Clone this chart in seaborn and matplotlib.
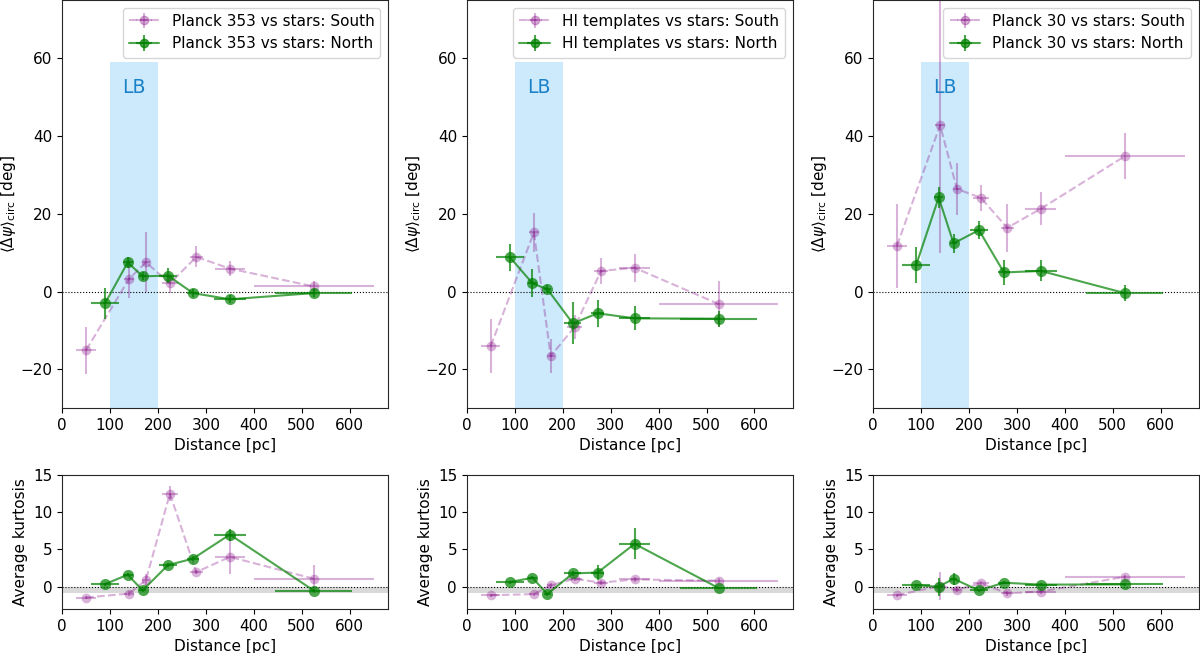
import numpy as np
import pandas as pd
import matplotlib
matplotlib.use("Agg")
import matplotlib.pyplot as plt
import seaborn as sns

# DATA
dist_south = [50, 140, 175, 225, 280, 350, 525]
dist_north = [90, 137, 168, 221, 273, 350, 525]
xerr_south = [20, 10, 8, 16, 14, 32, 125]
xerr_north = [29, 10, 8, 18, 13, 33, 80]

templates = ["Planck 353", "HI templates", "Planck 30"]

# mean circular angle difference [deg]
psi_south = [
    [-15.1, 3.3, 7.5, 2.1, 8.9, 5.9, 1.3],
    [-14.0, 15.2, -16.6, -9.1, 5.3, 6.1, -3.2],
    [11.8, 42.8, 26.4, 24.1, 16.4, 21.3, 34.8],
]
psi_south_err = [
    [6.0, 5.0, 7.7, 2.5, 2.7, 2.0, 1.5],
    [7.0, 5.0, 4.3, 3.0, 3.4, 3.6, 6.0],
    [10.8, 33.0, 6.7, 3.4, 6.2, 4.3, 5.9],
]
psi_north = [
    [-3.0, 7.5, 3.9, 4.1, -0.4, -2.0, -0.4],
    [8.8, 2.1, 0.6, -8.2, -5.6, -6.9, -7.0],
    [6.8, 24.2, 12.4, 15.8, 4.9, 5.3, -0.4],
]
psi_north_err = [
    [4.0, 1.5, 1.0, 2.0, 1.0, 1.0, 1.0],
    [3.4, 3.6, 1.0, 5.4, 3.4, 3.1, 2.1],
    [4.7, 2.6, 2.4, 2.4, 3.2, 2.7, 2.0],
]

# average kurtosis
kurt_south = [
    [-1.46, -0.93, 0.9, 12.5, 1.95, 4.0, 1.06],
    [-1.15, -1.0, 0.18, 1.06, 0.53, 0.97, 0.8],
    [-1.15, 0.1, -0.4, 0.44, -0.9, -0.66, 1.33],
]
kurt_south_err = [
    [0.2, 0.3, 0.8, 1.0, 0.3, 2.3, 1.9],
    [0.2, 0.2, 0.3, 0.3, 0.3, 0.3, 0.3],
    [0.2, 1.9, 0.3, 0.3, 0.3, 0.3, 0.3],
]
kurt_north = [
    [0.35, 1.6, -0.5, 2.9, 3.76, 7.0, -0.53],
    [0.62, 1.2, -1.0, 1.77, 1.9, 5.75, -0.18],
    [0.18, 0.0, 1.06, -0.5, 0.53, 0.27, 0.31],
]
kurt_north_err = [
    [0.2, 0.2, 0.2, 0.3, 0.3, 0.8, 0.2],
    [0.2, 0.2, 0.2, 0.3, 0.95, 2.1, 0.2],
    [0.2, 1.2, 0.8, 0.2, 0.2, 0.2, 0.2],
]

south_col = "purple"
north_col = "green"


def draw_series(ax, x, y, xerr, yerr, color, alpha, ls, ms, lw):
    df = pd.DataFrame({"x": x, "y": y})
    sns.lineplot(data=df, x="x", y="y", ax=ax, color=color, alpha=alpha,
                 linestyle=ls, marker="o", markersize=ms, markeredgewidth=0,
                 linewidth=lw, legend=False, sort=False)
    ax.errorbar(x, y, xerr=xerr, yerr=yerr, fmt="none", ecolor=color,
                alpha=alpha, elinewidth=lw)


def draw_panel(ax, ys, ys_err, yn, yn_err):
    draw_series(ax, dist_south, ys, xerr_south, ys_err, south_col, 0.3, "--", 7, 1.5)
    draw_series(ax, dist_north, yn, xerr_north, yn_err, north_col, 0.7, "-", 8, 1.5)
    ax.axhline(0, color="k", ls=":", lw=0.8, zorder=0)
    ax.set_xlim(0, 680)
    ax.set_xticks([0, 100, 200, 300, 400, 500, 600])
    ax.set_xlabel("Distance [pc]")


if __name__ == "__main__":
    sns.set_style("ticks", rc={"xtick.major.size": 3.5, "ytick.major.size": 3.5,
                               "axes.edgecolor": "0.15", "axes.linewidth": 0.8,
                               "text.color": "black", "axes.labelcolor": "black",
                               "xtick.color": "black", "ytick.color": "black"})
    plt.rcParams.update({"font.family": ["DejaVu Sans"], "font.size": 11,
                         "axes.labelsize": 11, "xtick.labelsize": 11,
                         "ytick.labelsize": 11, "legend.fontsize": 11,
                         "xtick.major.pad": 3.5, "ytick.major.pad": 3.5,
                         "axes.labelpad": 3.5})

    fig = plt.figure(figsize=(12, 6.53), dpi=100)
    lefts = [0.0517, 0.389, 0.7275]
    for i, name in enumerate(templates):
        ax = fig.add_axes([lefts[i], 0.375, 0.2717, 0.625])
        ax.fill_betweenx([-30, 59], 100, 200, color="#cdeafc", lw=0, zorder=0)
        ax.text(150, 52.5, "LB", color="#1a80c8", fontsize=13.5, ha="center", va="center")
        draw_panel(ax, psi_south[i], psi_south_err[i], psi_north[i], psi_north_err[i])
        ax.set_ylim(-30, 75)
        ax.set_yticks([-20, 0, 20, 40, 60])
        ax.set_ylabel(r"$\langle\Delta\psi\rangle_{\rm circ}$ [deg]", labelpad=1.5)
        # legend handles
        hs = ax.errorbar([np.nan], [np.nan], xerr=[1], yerr=[1], fmt="o--", color=south_col,
                         alpha=0.3, ms=6, label=f"{name} vs stars: South")
        hn = ax.errorbar([np.nan], [np.nan], xerr=[1], yerr=[1], fmt="o-", color=north_col,
                         alpha=0.7, ms=6, label=f"{name} vs stars: North")
        ax.legend(handles=[hs, hn], loc="upper right")

        axb = fig.add_axes([lefts[i], 0.0674, 0.2717, 0.2052])
        axb.axhspan(-0.9, 0, color="0.85", lw=0, zorder=0)
        draw_panel(axb, kurt_south[i], kurt_south_err[i], kurt_north[i], kurt_north_err[i])
        axb.set_ylim(-3, 15)
        axb.set_yticks([0, 5, 10, 15])
        axb.set_ylabel("Average kurtosis")

    plt.savefig("out.png", dpi=100)
